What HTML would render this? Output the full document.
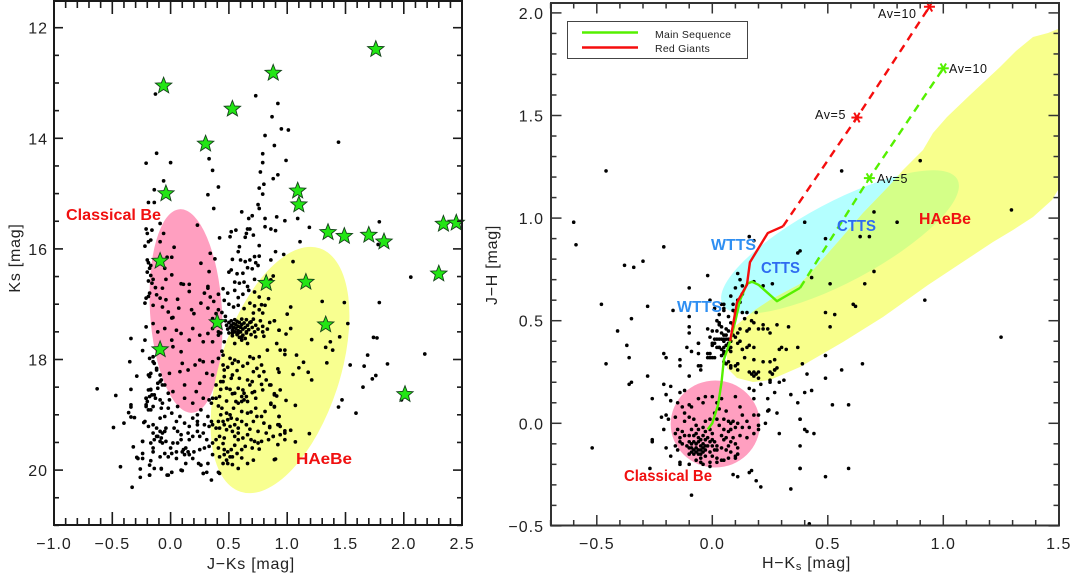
<!DOCTYPE html>
<html lang="en">
<head>
<meta charset="utf-8">
<title>Colour-magnitude and colour-colour diagrams</title>
<style>
html,body{margin:0;padding:0;background:#fff;width:1070px;height:574px;overflow:hidden}
svg{display:block}
text{font-family:"Liberation Sans",sans-serif}
.tick{font-size:16px;letter-spacing:1px;fill:#222}
.axt{font-size:16px;letter-spacing:.75px;fill:#222}
.lab{font-size:16px;font-weight:bold}
.av{font-size:12.5px;letter-spacing:.6px;fill:#111}
.leg{font-size:10.5px;letter-spacing:.25px;fill:#222}
</style>
</head>
<body>
<svg id="chart" xmlns="http://www.w3.org/2000/svg" width="1070" height="574" viewBox="0 0 1070 574">
  <g id="left-panel">
    <ellipse cx="186" cy="311" rx="36" ry="102" transform="rotate(-3.5 186 311)" fill="#ff9fc0"/>
    <ellipse cx="280" cy="370" rx="60" ry="128" transform="rotate(18 280 370)" fill="#f8ff90"/>
    <g id="left-points"></g>
    <g id="left-stars"></g>
    <rect x="54" y="1" width="408" height="524" fill="none" stroke="#1a1a1a" stroke-width="2"/>
    <g id="left-ticks"></g>
    <text class="lab" x="66" y="220" fill="#f01010" textLength="95" lengthAdjust="spacingAndGlyphs">Classical Be</text>
    <text class="lab" x="296" y="464" fill="#f01010" textLength="56" lengthAdjust="spacingAndGlyphs">HAeBe</text>
    <text class="axt" x="251" y="569" text-anchor="middle">J−Ks [mag]</text>
    <text class="axt" transform="translate(20 258) rotate(-90)" text-anchor="middle">Ks [mag]</text>
  </g>
  <g id="right-panel">
    <ellipse cx="715.3" cy="424" rx="44.6" ry="43.5" fill="#ff9fc0"/>
    <ellipse cx="840" cy="242" rx="133" ry="40" transform="rotate(-28 840 242)" fill="#b4ffff"/>
    <clipPath id="yellow-clip"><polygon id="yellow-shape" points="1058,29 1048,33 1033,37 1016,51 1000,67 970,95 947,117 933,133 923,150 903,170 890,185 863,213 837,243 815,268 800,284 770,300 755,310 745,318 733,328 727,352 727,368 737,378 753,382 770,380 800,367 843,342 883,317 928,285 993,242 1013,230 1033,217 1052,200 1058,190"/></clipPath>
    <polygon points="1058,29 1048,33 1033,37 1016,51 1000,67 970,95 947,117 933,133 923,150 903,170 890,185 863,213 837,243 815,268 800,284 770,300 755,310 745,318 733,328 727,352 727,368 737,378 753,382 770,380 800,367 843,342 883,317 928,285 993,242 1013,230 1033,217 1052,200 1058,190" fill="#f8ff8c"/>
    <g clip-path="url(#yellow-clip)"><ellipse cx="840" cy="242" rx="133" ry="40" transform="rotate(-28 840 242)" fill="#d4ff88"/></g>
    <g id="right-points"></g>
    <g id="right-lines"></g>
    <rect x="551" y="3" width="508" height="522.5" fill="none" stroke="#333" stroke-width="2"/>
    <g id="right-ticks"></g>
    <text class="lab" x="711" y="250" fill="#2f8ff2" textLength="45" lengthAdjust="spacingAndGlyphs">WTTS</text>
    <text class="lab" x="677" y="312" fill="#2f8ff2" textLength="45" lengthAdjust="spacingAndGlyphs">WTTS</text>
    <text class="lab" x="761" y="273" fill="#2f6cf0" textLength="39" lengthAdjust="spacingAndGlyphs">CTTS</text>
    <text class="lab" x="837" y="231" fill="#2f6cf0" textLength="39" lengthAdjust="spacingAndGlyphs">CTTS</text>
    <text class="lab" x="919" y="224" fill="#f01010" textLength="52" lengthAdjust="spacingAndGlyphs">HAeBe</text>
    <text class="lab" x="624" y="481" fill="#f01010" textLength="88" lengthAdjust="spacingAndGlyphs">Classical Be</text>
    <text class="av" x="878" y="18">Av=10</text>
    <text class="av" x="815" y="119">Av=5</text>
    <text class="av" x="949" y="73">Av=10</text>
    <text class="av" x="877" y="183">Av=5</text>
    <g>
      <rect x="567.5" y="21.5" width="180" height="37" fill="#fff" stroke="#444" stroke-width="1"/>
      <line x1="582" x2="638" y1="32.5" y2="32.5" stroke="#55f000" stroke-width="2.4"/>
      <line x1="582" x2="638" y1="47.5" y2="47.5" stroke="#f50d0d" stroke-width="2.4"/>
      <text class="leg" x="655" y="38">Main Sequence</text>
      <text class="leg" x="655" y="52">Red Giants</text>
    </g>
    <text class="axt" x="762" y="568">H−K<tspan font-size="11" dy="2">s</tspan><tspan dy="-2"> [mag]</tspan></text>
    <text class="axt" transform="translate(497 265) rotate(-90)" text-anchor="middle">J−H [mag]</text>
  </g>
</svg>
<script>
const leftXTicks = [-1.0, -0.5, 0.0, 0.5, 1.0, 1.5, 2.0, 2.5];
const leftYTicks = [12, 14, 16, 18, 20];
const rightXTicks = [-0.5, 0.0, 0.5, 1.0, 1.5];
const rightYTicks = [-0.5, 0.0, 0.5, 1.0, 1.5, 2.0];

const leftStars = [[-0.06,13.05],[0.88,12.82],[1.76,12.39],[0.53,13.47],[0.30,14.1],[-0.04,15.0],[1.09,14.95],[1.10,15.2],[1.35,15.7],[1.49,15.77],[1.70,15.75],[1.83,15.87],[2.34,15.55],[2.45,15.53],[2.30,16.45],[1.16,16.6],[0.82,16.62],[-0.09,16.22],[0.40,17.33],[-0.09,17.82],[1.33,17.37],[2.01,18.63]];

const leftPoints = [
[-.13,13.2],[.73,13.23],[.81,13.95],[-.12,14.27],[-.21,14.45],[0,14.44],[.33,14.37],[.36,14.58],[.79,14.28],[.79,14.44],[.77,14.61],[.41,14.88],[.32,15.02],[-.06,14.77],[-.14,14.93],[.8,14.83],[.76,14.9],[.79,15.01],[-.19,15.16],[-.14,15.16],[.37,15.27],[.75,15.2],[.76,15.27],[.61,15.33],[.67,15.45],[.7,15.4],[.81,15.45],[-.09,15.54],[.23,15.57],[.81,15.6],[-.21,15.64],[-.16,15.66],[-.2,15.72],[-.06,15.72],[.56,15.66],[.52,15.69],[.51,15.78],[.42,15.8],[.66,15.64],[.68,15.64],[.65,15.72],[.64,15.79],[.71,15.75],[-.09,15.87],[-.17,15.84],[-.19,15.87],[-.22,15.95],[.03,15.97],[.59,15.96],[.58,16.05],[.76,15.94],[.72,16.14],[.76,16.13],[.53,16.19],[.34,16.08],[.26,16.26],[.38,16.18],[.33,16.41],[-.03,16.15],[.01,16.15],[.01,16.47],[-.05,16.35],[-.04,16.55],[.09,16.63],[.11,16.64],[.16,16.64],[.32,16.71],[.6,16.2],[.64,16.23],[.68,16.2],[.73,16.25],[.5,16.42],[.52,16.38],[.57,16.45],[.62,16.44],[.66,16.34],[.7,16.36],[.75,16.3],[.55,16.6],[.59,16.62],[.63,16.6],[.66,16.68],[.72,16.55],
[-.2,16.2],[-.19,16.25],[-.17,16.3],[-.18,16.35],[-.2,16.42],[-.17,16.48],[-.15,16.55],[-.19,16.58],[-.16,16.62],[-.13,16.7],[-.21,16.89],[-.22,16.98],[-.19,16.86],[-.18,16.8],[-.12,16.83],[-.07,16.71],[-.09,16.89],[-.04,16.92],[.06,16.91],[-.21,17.41],[-.22,17.65],[-.34,17.62],[-.24,17.84],[-.35,18.04],[-.29,18.3],[-.63,18.53],[-.47,18.65],[-.34,18.54],[-.34,18.82],[-.34,18.86],[-.36,18.96],[-.34,19.04],[-.31,19.05],[-.4,19.15],[-.49,19.23],[-.32,19.58],[-.43,19.94],[-.29,19.77],[-.26,19.98],[-.26,20.13],[-.33,20.31],[-.24,19.7],[-.24,19.48],[-.23,19.14],[-.18,20.09],[-.08,19.98],[-.03,20.09],[.01,20.04],[.1,20.01],[.28,20.06],[.31,20.04],[.35,20.18],[.41,20.04],
[1.79,16.97],[1.49,16.97],[1.3,16.95],[1.03,17.05],[1,17.18],[.89,17.3],[.93,17.47],[1.03,17.44],[.99,17.54],[1.52,17.35],[1.45,17.59],[1.21,17.64],[1.74,17.6],[1.77,17.61],[1.37,17.68],[1.33,17.78],[1.39,17.83],[1.69,17.92],[.94,17.83],[.98,17.91],[1.08,17.92],[2.18,17.9],[1.86,18.08],[1.54,18.1],[1.66,18.12],[1.34,18.06],[1.14,18.05],[1.1,18.15],[1.05,18.27],[1.18,18.23],[1.21,18.37],[1.76,18.29],[1.73,18.35],[1.65,18.5],[.92,18.17],[.93,18.23],[.86,18.46],[.94,18.55],[.89,18.62],[.91,18.66],[.99,18.74],[1.07,18.83],[1.47,18.73],[1.44,18.86],[1.59,18.97],[1.98,18.73],[.86,18.81],[.89,18.86],[.93,19.03],[.93,19.18],[.94,19.21],[1.03,19.28],[.98,19.29],[.94,19.36],[.88,19.39],[.85,19.23],[.98,19.45],[1.07,19.49],[.92,19.54],[1.19,19.34],[.9,19.8],
[.92,13.37],[.87,13.61],[.95,13.83],[1.01,13.85],[1.44,14.07],[.89,14.13],[.99,14.4],[.92,14.66],[.88,14.73],[.91,15.42],[.98,15.49],[1.09,15.45],[.86,15.64],[.9,15.67],[1.19,15.61],[1.11,15.87],[1.79,15.51],[1.78,15.92],[.9,16.05],[.97,16.1],[.86,16.2],[1.05,16.23],[2.06,16.51],[.88,16.49],[.86,16.56],
[-.02,17.14],[.01,17.25],[.02,17.24],[.07,17.07],[.18,17.1],[.2,17.17],[-.07,17.05],[-.15,17.02],[-.15,17.35],[-.11,17.5],[-.05,17.44],[.05,17.47],[.09,17.53],[.19,17.44],[.25,17.56],[.32,17.53],[.36,17.44],[.39,17.17],[.36,17.26],[.32,17.07],[.26,16.98],[.16,16.77],[.32,16.68],[.41,17.5],[.41,17.1],[.02,17.77],[-.07,17.8],[.09,17.86],[.01,17.65],[.16,17.65],[.28,17.68],[.36,17.68],[.41,17.56],[.25,18.01],[.21,18.1],[.28,18.04],[.1,18.07],[-.01,18.25],[.08,18.22],[.15,18.19],[.31,18.25],[.36,18.04],[.41,17.98],[.36,18.28],[.39,18.46],[.25,18.43],[.22,18.58],[.12,18.46],[.02,18.58],[.12,18.7],[.28,18.7],[.33,18.73],[.19,18.79],[.26,18.91],
[-.15,17.95],[-.14,18.07],[-.17,18.25],[-.18,18.31],[-.12,18.19],[-.09,18.4],[-.07,18.46],[-.11,18.52],[-.17,18.55],[-.16,18.64],[-.21,18.7],[-.21,18.82],[-.19,18.91],[-.13,18.7],
[-.18,17.98],[-.15,18.04],[-.12,18.16],[-.19,18.28],[-.09,18.28],[-.08,18.37],[-.11,18.43],[-.05,18.46],[-.02,18.61],[-.19,18.55],[-.17,18.54],[-.18,18.67],[-.21,18.7],[-.2,18.76],[-.14,18.64],[-.15,18.85],[-.17,18.91],[-.21,18.85],[-.09,18.73],[-.07,18.79],[-.08,18.88],[-.02,18.88],[.01,18.97],[-.05,19.03],[-.09,19.06],[-.01,18.73],[.06,18.85],[.08,19.03],[.05,19.12],[-.22,19.12],[-.15,19.18],[-.19,19.21],[-.12,19.24],[-.09,19.3],[-.07,19.33],[-.11,19.39],[-.08,19.42],[-.14,19.45],[-.05,19.3],[-.24,19.48],[-.17,19.51],[-.15,19.6],[-.15,19.67],[-.09,19.76],[-.04,19.24],[.03,19.24],[.06,19.3],[.09,19.36],[.02,19.51],[0,19.6],[.05,19.67],[.11,19.63],[.13,19.6],[.15,19.67],[.12,19.72],[.16,19.72],[.1,19.67],[.2,19.67],[.25,19.63],[.29,19.6],[.19,19.79],[.24,19.88],[.26,19.91],[.13,19.88],[.09,20],[-.02,20.09],[.01,20.04],[-.08,19.97],[-.18,19.91],[-.17,19.83],[-.24,19.79],[-.28,19.79],[-.14,19.97],[-.18,20.09],[.32,19.88],[.28,20.06],[.19,19.06],[.23,19],[.23,19.12],[.23,19.18],[.12,19.15],[.16,19.21],[.15,19.33],[.19,19.39],[.23,19.3],[.25,19.39],[.16,19.45],[.29,19.18],[.28,19.33],[.31,19.45],[.32,19.03],[.33,19.57],[.09,19.45],[.06,19.51],[-.05,19.7],[-.02,19.76],[.01,19.7],[.05,19.79],[-.15,19.33],[-.12,19.39],[-.09,19.48],[-.07,19.51],[-.04,19.48],
[.29,16.8],[.34,16.87],[.37,16.95],[.41,16.82],[.45,16.72],[.49,16.8],[.46,16.93],[.5,17],[.55,16.75],[.58,16.88],[.62,16.82],[.67,16.75],[.72,16.78],[.76,16.87],[.54,17.05],[.58,17.02],[.63,17.08],[.68,16.98],[.72,17.03],[.76,17.1],[.81,17.02],[.84,16.9],[.44,17.15],[.47,17.22],
[.47,17.3],[.48,17.38],[.49,17.45],[.5,17.33],[.5,17.52],[.51,17.42],[.52,17.3],[.52,17.38],[.53,17.47],[.53,17.57],[.54,17.35],[.54,17.42],[.55,17.28],[.55,17.5],[.56,17.37],[.56,17.44],[.57,17.31],[.57,17.55],[.58,17.4],[.58,17.48],[.59,17.33],[.59,17.6],[.6,17.42],[.6,17.5],[.61,17.27],[.61,17.37],[.62,17.45],[.62,17.56],[.63,17.34],[.64,17.42],[.64,17.62],[.65,17.28],[.65,17.5],[.66,17.38],[.67,17.46],[.68,17.33],[.69,17.55],[.7,17.42],[.71,17.27],[.72,17.5],[.73,17.38],[.75,17.45],[.77,17.3],[.79,17.4],[.8,17.58],[.83,17.45],[.85,17.33],
[.43,17.52],[.46,17.68],[.45,17.92],[.51,17.98],[.55,18.01],[.58,18.04],[.53,18.07],[.45,18.1],[.46,18.19],[.68,17.95],[.71,17.98],[.66,18.07],[.76,17.95],[.78,18.1],[.83,17.83],[.91,17.71],[.71,18.22],[.59,18.34],[.66,18.37],[.68,18.46],[.52,18.34],[.46,18.31],[.45,18.4],[.48,18.52],[.43,18.54],[.51,18.54],[.39,18.7],[.36,18.7],[.42,18.67],[.35,18.79],[.58,18.52],[.55,18.61],[.62,18.55],[.63,18.61],[.61,18.67],[.65,18.67],[.63,18.73],[.61,18.76],[.66,18.76],[.58,18.79],[.72,18.58],[.73,18.7],[.82,18.37],[.85,18.46],[.89,18.64],[.86,18.79],[.89,18.85],[.48,18.97],[.51,19],[.43,19],[.52,19.06],[.49,19.09],[.45,19.12],[.41,19.12],[.55,19.18],[.46,19.18],[.51,19.21],[.36,19.18],[.39,19.24],[.35,19.12],[.33,19.21],[.42,19.24],[.48,19.27],[.58,19.24],[.66,18.97],[.61,18.94],[.73,18.88],[.78,19.03],[.71,19.12],[.65,19.18],[.85,19.21],[.93,19.03],[.92,19.18],[.42,19.39],[.46,19.42],[.39,19.45],[.36,19.51],[.55,19.39],[.58,19.45],[.62,19.42],[.66,19.36],[.69,19.45],[.72,19.48],[.75,19.51],[.78,19.48],[.82,19.33],[.88,19.39],[.98,19.33],[.64,19.57],[.61,19.63],[.46,19.63],[.49,19.67],[.52,19.63],[.46,19.72],[.51,19.76],[.48,19.82],[.53,19.76],[.45,19.88],[.49,19.88],[.58,19.97],[.66,19.88],[.71,19.82],[.42,19.76],[.41,19.6],[.36,19.72],[.42,20.06],[.89,19.81],
[.61,17.65],[.55,17.71],[.66,17.71],[.73,17.59],[.61,17.59],[.79,17.5],[.69,17.32],[.79,17.16],[.89,17.3],[.93,17.47],[.98,17.83],[.78,17.01],[.71,17.16],[.53,17.52],[.58,17.52],[.65,17.52],
[.44,17.85],[.49,18.14],[.62,18.12],[.74,18.16],[.8,18.22],[.57,18.2],[.53,18.28],[.76,18.3],[.43,18.4],[.7,18.4],[.78,18.45],[.53,18.62],[.7,18.6],[.79,18.55],[.56,18.76],[.48,18.75],[.41,18.84],[.44,18.88],[.54,18.88],[.69,18.95],[.81,18.94],[.74,19.03],[.57,19.08],[.61,19.12],[.8,19.15],[.68,19.26],[.75,19.3],[.53,19.3],[.58,19.33],[.45,19.52],[.55,19.55],[.7,19.6],[.76,19.62],[.84,19.45],[.57,19.7],[.61,19.78],[.53,19.9]
];

const greenTrackJH = [-0.03,0,0.09,0.2,0.31,0.4,0.5,0.6,0.68,0.69,0.675,0.595,0.66];
const greenTrackHK = [-0.02,0,0.025,0.04,0.05,0.077,0.1,0.12,0.15,0.172,0.2,0.28,0.38];
const redTrackJH = [0.4,0.59,0.675,0.785,0.927,0.96];
const redTrackHK = [0.077,0.107,0.15,0.163,0.24,0.306];
const greenAvHK = [0.38,0.68,1.0];
const greenAvJH = [0.66,1.195,1.73];
const redAvHK = [0.306,0.626,0.94];
const redAvJH = [0.96,1.49,2.03];

const rightPoints = [
[-.46,1.23],[-.6,.98],[-.59,.87],[-.21,.86],[-.38,.77],[-.34,.76],[-.3,.79],[-.02,.72],[-.1,.66],[.16,.91],[.18,.89],[.37,.83],[.38,.84],[.11,.73],[.12,.7],[.13,.67],[.1,.66],[.18,.69],[.22,.67],[.26,.68],
[.56,1.23],[.9,1.28],[.4,.98],[.7,1.03],[.8,.98],[1.295,1.04],[.64,.91],[.68,.91],[.49,.9],[.7,.74],[.43,.71],[.51,.68],[.66,.68],
[.92,.6],[1.25,.42],[.49,.54],[.53,.53],[.51,.47],[.61,.58],[.62,.57],[.49,.33],[.65,.29],[.39,.29],[.41,.24],[.56,.26],[.49,.22],[.4,.15],[.43,.16],[.52,.09],[.59,.09],[.38,.02],[.4,-.03],[.41,-.04],[.44,-.05],[.38,-.11],[.38,-.22],[.59,-.22],[.49,-.26],[.42,-.49],
[-.48,.58],[-.28,.57],[-.35,.51],[-.17,.55],[-.41,.45],[-.1,.52],[-.1,.47],[-.1,.44],[-.37,.38],[-.36,.32],[-.46,.29],[-.21,.34],[-.2,.32],[-.14,.31],[-.14,.28],[-.11,.37],[-.09,.35],[-.06,.39],[-.06,.34],[-.02,.34],[-.01,.32],[.01,.32],[-.06,.28],[-.05,.28],[-.05,.26],[-.28,.23],[-.1,.23],[-.36,.19],[-.35,.2],[-.21,.19],[-.18,.18],[-.12,.16],[-.2,.14],[-.14,.15],[-.26,.12],[-.18,.11],[-.15,.1],[-.52,-.12],[-.22,.03],[-.2,.04],[-.19,.02],[-.21,-.03],[-.26,-.08],[-.26,-.09],[-.2,-.12],[-.18,-.16],[-.14,-.19],[-.14,-.2],[-.27,-.22],[-.09,-.35],[.09,-.25],[.11,-.26],[.16,-.24],[.17,-.23],[.19,-.28],[.21,-.31],[.29,-.05],[.34,-.32],[.38,-.22],[.28,.05],[.34,.14],[.37,.1],[.38,.02],[.24,.06],[.245,.065],[.23,0],[.27,.15],[.24,.12],[.18,.12],[.16,.17],[.18,.16],[.21,.19],[.31,.21],[.25,.21],
[-.01,.6],[.04,.58],[.05,.55],[.03,.53],[.02,.5],[.07,.52],[.04,.47],[.02,.45],[-.02,.46],[.06,.46],[.08,.49],[.09,.55],[.11,.6],[.13,.63],[.08,.62],[.06,.43],[.07,.41],[.05,.4],[.03,.41],[.01,.41],[.08,.4],[.09,.43],[.06,.38],[.04,.36],[.03,.37],[.07,.36],[.05,.34],[.08,.35],[.02,.37],[.1,.42],[.12,.4],[-.01,.42],[0,.38],[.07,.3],[.11,.29],[.1,.28],[.13,.36],[.16,.38],[.15,.37],[.18,.37],[.14,.32],[.05,.3],[.08,.27],[.14,.51],[.17,.5],[.19,.54],[.22,.48],[.24,.46],[.2,.46],[.28,.48],[.25,.44],[.15,.45],[.33,.47],[.37,.37],[.3,.37],[.29,.36],[.32,.36],[.25,.3],[.27,.31],[.18,.31],[.19,.24],[.2,.25],[.18,.25],[.27,.26],[.25,.25],[.26,.24],[.28,.27],[.22,.3],[.2,.22],[.25,.2],[.29,.2],
[.01,.56],[.03,.49],[.03,.48],[0,.45],[.04,.44],[.05,.43],[.07,.45],[.05,.41],[.02,.41],[0,.39],[.01,.39],[-.06,.39],[.05,.37],[.03,.37],[.05,.35],[.04,.33],[-.01,.34],[0,.32],[-.02,.32],[.06,.29],[.08,.28],[.11,.29],[.11,.26],[.16,.25],[.17,.24],[.18,.23],[.26,.24],[.27,.26],[.13,.36],[.11,.39],[.16,.46],[.12,.46],[.18,.49],[.22,.46],[.13,.54],[.15,.54],[.1,.54],[.09,.58],[.05,.58],[.05,.56],[.12,.59],[.13,.63],[.09,.48],[.11,.44],[.07,.39],[.08,.37],[.04,.41],[.06,.41],
[.0,.13],[.02,.1],[.03,.07],[.01,.05],[-.03,.13],[-.04,.1],[-.1,.09],[-.09,.08],[-.13,.08],[-.06,.12],[.04,.12],[.1,.13],[.12,.08],[.06,.06],[.13,.04],[.18,.04],[.2,.04],[-.12,.05],[-.1,.03],[-.16,.03],[-.12,.01],[-.08,.02],[-.03,.01],[-.01,.02],[.02,.02],[.05,.02],[.07,.01],[.08,0],[.09,.01],[.11,0],[.15,.01],[.16,-.02],[.2,-.01],[.2,-.03],[.13,-.02],
[-.15,-.03],[-.13,-.04],[-.09,-.03],[-.07,-.01],[-.06,-.03],[-.04,-.02],[-.03,-.04],[-.01,-.03],[0,-.05],[.03,-.01],[.05,-.03],[.07,-.04],[.08,-.03],[.1,-.02],[.04,-.06],[.06,-.07],[.09,-.07],[.12,-.06],[.15,-.07],[.18,-.05],[-.16,-.05],[-.14,-.07],[-.12,-.06],[-.1,-.06],[-.08,-.06],[-.07,-.05],[-.06,-.07],[-.05,-.08],[-.04,-.06],[-.03,-.08],[-.02,-.07],[-.01,-.09],[.0,-.08],[.01,-.09],
[-.14,-.09],[-.13,-.1],[-.11,-.11],[-.1,-.09],[-.09,-.1],[-.08,-.09],[-.07,-.1],[-.06,-.09],[-.05,-.11],[-.04,-.1],[-.03,-.11],[-.02,-.11],[0,-.11],[.02,-.11],[.05,-.08],[.08,-.09],[.1,-.1],[.07,-.11],
[-.1,-.12],[-.09,-.12],[-.08,-.13],[-.07,-.12],[-.06,-.13],[-.05,-.13],[-.04,-.12],[-.09,-.14],[-.08,-.15],[-.07,-.14],[-.06,-.15],[-.05,-.15],[-.04,-.14],[-.03,-.13],[-.01,-.14],[.02,-.13],[.04,-.12],[.06,-.13],[.08,-.14],[.11,-.12],[.11,-.15],[.1,-.16],[-.03,-.16],[-.05,-.17],[-.1,-.15],[0,-.16],[.02,-.17],[.01,-.13],[-.07,-.18],[-.05,-.19],[-.01,-.19],[.02,-.19],[.04,-.18],[.05,-.18],[.07,-.17],[.1,-.17],[-.01,-.21],[-.04,-.2],[-.1,-.2],[-.15,-.13],[-.16,-.11]
];

const NS = 'http://www.w3.org/2000/svg';
const lx = v => 54 + (v + 1) * 116.6;
const ly = v => 27.7 + (v - 12) * 55.3;
const rx = v => 712.3 + v * 231;
const ry = v => 423.3 - v * 205.2;
const fmt = v => v.toFixed(1).replace('-', '\u2212');
function make(parent, tag, attrs) {
  const el = document.createElementNS(NS, tag);
  Object.keys(attrs).forEach(k => el.setAttribute(k, attrs[k]));
  parent.appendChild(el);
  return el;
}
function drawDots(target, points, xs, ys, r) {
  points.forEach(p => {
    const el = make(target, 'circle', {cx: xs(p[0]), cy: ys(p[1]), r: r, fill: '#000'});
    
    
  });
}
function starPath(cx, cy, R, r) {
  const pts = [];
  for (let i = 0; i < 10; i++) {
    const a = -Math.PI / 2 + i * Math.PI / 5, d = i % 2 ? r : R;
    pts.push((cx + d * Math.cos(a)).toFixed(1) + ',' + (cy + d * Math.sin(a)).toFixed(1));
  }
  return pts.join(' ');
}
function drawLine(target, xsv, ysv, color, dash, name) {
  const pts = xsv.map((v, i) => rx(v) + ',' + ry(ysv[i])).join(' ');
  const attrs = {points: pts, fill: 'none', stroke: color, 'stroke-width': 2.4, 'stroke-linejoin': 'round'};
  if (dash) attrs['stroke-dasharray'] = dash;
  const el = make(target, 'polyline', attrs);
  
  
}
function drawAsterisk(target, cx, cy, color, name) {
  const g = make(target, 'g', {});
  
  
  [0, 60, 120].forEach(a => {
    const c = Math.cos(a * Math.PI / 180) * 5.5, s = Math.sin(a * Math.PI / 180) * 5.5;
    make(g, 'line', {x1: cx - c, y1: cy - s, x2: cx + c, y2: cy + s, stroke: color, 'stroke-width': 2});
  });
}
function tick(target, x1, y1, x2, y2, color, w) {
  const el = make(target, 'line', {x1: x1, y1: y1, x2: x2, y2: y2, stroke: color, 'stroke-width': w});
  
  
}
function label(target, x, y, str, anchor, name) {
  const el = make(target, 'text', {x: x, y: y, 'text-anchor': anchor, class: 'tick'});
  el.textContent = str;
  
  
}

/* left panel */
drawDots(document.getElementById('left-points'), leftPoints, lx, ly, 1.85);
const leftStarGroup = document.getElementById('left-stars');
leftStars.forEach(s => {
  const el = make(leftStarGroup, 'polygon', {points: starPath(lx(s[0]), ly(s[1]), 8.6, 3.7), fill: '#22e614', stroke: '#14421a', 'stroke-width': 0.9});
  
  
});
const lt = document.getElementById('left-ticks');
for (let i = -10; i <= 25; i++) {
  const x = lx(i / 10), major = i % 5 === 0, len = major ? 13 : 7;
  tick(lt, x, 525, x, 525 - len, '#1a1a1a', 1.6);
  tick(lt, x, 1, x, 1 + len, '#1a1a1a', 1.6);
}
for (let i = 23; i <= 42; i++) {
  const v = i / 2, y = ly(v), major = i % 4 === 0, len = major ? 9 : 5;
  tick(lt, 54, y, 54 + len, y, '#1a1a1a', 1.6);
  tick(lt, 462, y, 462 - len, y, '#1a1a1a', 1.6);
}
leftXTicks.forEach(v => label(lt, lx(v), 549, fmt(v), 'middle', 'x-tick-label'));
leftYTicks.forEach(v => label(lt, 48, ly(v) + 6, String(v), 'end', 'y-tick-label'));

/* right panel */
drawDots(document.getElementById('right-points'), rightPoints, rx, ry, 1.8);
const rl = document.getElementById('right-lines');
drawLine(rl, greenAvHK, greenAvJH, '#55f000', '8 6', 'main-sequence-reddening-track');
drawLine(rl, redAvHK, redAvJH, '#f50d0d', '8 6', 'red-giant-reddening-track');
drawLine(rl, greenTrackHK, greenTrackJH, '#55f000', null, 'main-sequence-line');
drawLine(rl, redTrackHK, redTrackJH, '#f50d0d', null, 'red-giants-line');
drawAsterisk(rl, rx(greenAvHK[1]), ry(greenAvJH[1]), '#55f000', 'av-5-green-marker');
drawAsterisk(rl, rx(greenAvHK[2]), ry(greenAvJH[2]), '#55f000', 'av-10-green-marker');
drawAsterisk(rl, rx(redAvHK[1]), ry(redAvJH[1]), '#f50d0d', 'av-5-red-marker');
drawAsterisk(rl, rx(redAvHK[2]), ry(redAvJH[2]), '#f50d0d', 'av-10-red-marker');
const rt = document.getElementById('right-ticks');
for (let i = -7; i <= 15; i++) {
  const x = rx(i / 10), major = i % 5 === 0, len = major ? 10.5 : 5.5;
  tick(rt, x, 525.5, x, 525.5 - len, '#333', 1.5);
  tick(rt, x, 3, x, 3 + len, '#333', 1.5);
}
for (let i = -5; i <= 20; i++) {
  const y = ry(i / 10), major = i % 5 === 0, len = major ? 10.5 : 5.5;
  tick(rt, 551, y, 551 + len, y, '#333', 1.5);
  tick(rt, 1059, y, 1059 - len, y, '#333', 1.5);
}
rightXTicks.forEach(v => label(rt, rx(v), 549, fmt(v), 'middle', 'x-tick-label'));
rightYTicks.forEach(v => label(rt, 544, ry(v) + 6, fmt(v), 'end', 'y-tick-label'));
</script>
</body>
</html>
